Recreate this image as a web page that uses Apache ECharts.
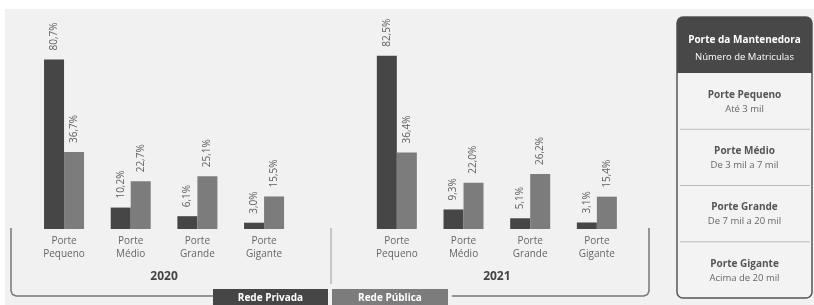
<!DOCTYPE html>
<html lang="pt">
<head>
    <meta charset="UTF-8">
    <title>Porte da Mantenedora</title>
    <script src="https://cdn.jsdelivr.net/npm/echarts@6/dist/echarts.min.js"></script>
    <style>
        body { margin: 0; background: #fff; }
        #fundo { position: absolute; left: 5px; top: 9px; width: 809px; height: 296px; background: #f1f1f1; }
        #main { position: absolute; left: 0; top: 0; width: 814px; height: 305px; }
    </style>
</head>
<body>
    <div id="fundo"></div>
    <div id="main"></div>
    <script>
        // dados
        var categorias = ['Porte\nPequeno', 'Porte\nMédio', 'Porte\nGrande', 'Porte\nGigante'];
        var anos = ['2020', '2021'];
        var privada2020 = [80.7, 10.2, 6.1, 3.0];
        var publica2020 = [36.7, 22.7, 25.1, 15.5];
        var privada2021 = [82.5, 9.3, 5.1, 3.1];
        var publica2021 = [36.4, 22.0, 26.2, 15.4];
        var redes = ['Rede Privada', 'Rede Pública'];
        var tabelaTitulo = ['Porte da Mantenedora', 'Número de Matriculas'];
        var tabelaPorte = ['Porte Pequeno', 'Porte Médio', 'Porte Grande', 'Porte Gigante'];
        var tabelaFaixa = ['Até 3 mil', 'De 3 mil a 7 mil', 'De 7 mil a 20 mil', 'Acima de 20 mil'];

        var corPrivada = '#464646';
        var corPublica = '#7c7c7c';
        var fonte = '"Open Sans", sans-serif';

        var myChart = echarts.init(document.getElementById('main'));

        function rotulo(p) {
            return p.value.toFixed(1).replace('.', ',') + '%';
        }

        var label = {
            show: true,
            position: 'top',
            rotate: 90,
            align: 'left',
            verticalAlign: 'middle',
            distance: 9,
            fontSize: 10,
            fontFamily: fonte,
            color: '#606060',
            formatter: rotulo
        };

        function eixoX(i) {
            return {
                type: 'category',
                gridIndex: i,
                data: categorias,
                axisLine: { show: false },
                axisTick: { show: false },
                axisLabel: { fontSize: 10, lineHeight: 13, color: '#666', fontFamily: fonte, margin: 6 },
                name: anos[i],
                nameLocation: 'middle',
                nameGap: 42,
                nameTextStyle: { fontSize: 12, fontWeight: 'bold', color: '#444', fontFamily: fonte }
            };
        }
        function eixoY(i) {
            return { type: 'value', gridIndex: i, min: 0, max: 100, show: false };
        }
        function serie(nome, i, dados, cor) {
            return {
                name: nome, type: 'bar', xAxisIndex: i, yAxisIndex: i,
                data: dados, barWidth: 20, barGap: '0%',
                itemStyle: { color: cor }, label: label
            };
        }

        var graficos = [
            // colchete esquerdo
            { type: 'polyline', shape: { points: [[11, 228], [11, 291], [12.5, 294.5], [16, 296], [213, 296]] },
              style: { stroke: '#777', lineWidth: 1.5, fill: null } },
            // colchete direito
            { type: 'polyline', shape: { points: [[452, 296], [644, 296], [647.5, 294.5], [649, 291], [649, 228]] },
              style: { stroke: '#777', lineWidth: 1.5, fill: null } },
            // divisor
            { type: 'line', shape: { x1: 331, y1: 228, x2: 331, y2: 284 }, style: { stroke: '#9a9a9a', lineWidth: 1 } },
            // caixas da legenda
            { type: 'rect', shape: { x: 213, y: 289, width: 115, height: 20 }, style: { fill: corPrivada } },
            { type: 'text', x: 270.5, y: 298, style: { text: redes[0], fill: '#fff', font: 'bold 10px ' + fonte, align: 'center', verticalAlign: 'middle' } },
            { type: 'rect', shape: { x: 332, y: 289, width: 116, height: 20 }, style: { fill: corPublica } },
            { type: 'text', x: 390, y: 298, style: { text: redes[1], fill: '#fff', font: 'bold 10px ' + fonte, align: 'center', verticalAlign: 'middle' } },
            // tabela
            { type: 'rect', shape: { x: 677, y: 17, width: 135, height: 281, r: 6 }, style: { fill: '#f3f3f3', stroke: '#555', lineWidth: 1.5 } },
            { type: 'rect', shape: { x: 677, y: 17, width: 135, height: 56, r: [6, 6, 0, 0] }, style: { fill: '#484848' } },
            { type: 'text', x: 744.5, y: 40, style: { text: tabelaTitulo[0], fill: '#fff', font: 'bold 10px ' + fonte, align: 'center', verticalAlign: 'middle' } },
            { type: 'text', x: 744.5, y: 57, style: { text: tabelaTitulo[1], fill: '#fff', font: '9.5px ' + fonte, align: 'center', verticalAlign: 'middle' } }
        ];
        var linhaTopo = 73, alturaLinha = 56.25;
        tabelaPorte.forEach(function (t, k) {
            var c = linhaTopo + alturaLinha * k + alturaLinha / 2;
            graficos.push({ type: 'text', x: 744.5, y: c - 6, style: { text: t, fill: '#555', font: 'bold 10px ' + fonte, align: 'center', verticalAlign: 'middle' } });
            graficos.push({ type: 'text', x: 744.5, y: c + 8, style: { text: tabelaFaixa[k], fill: '#666', font: '9.5px ' + fonte, align: 'center', verticalAlign: 'middle' } });
            if (k > 0) {
                var y = linhaTopo + alturaLinha * k;
                graficos.push({ type: 'line', shape: { x1: 680, y1: y, x2: 810, y2: y }, style: { stroke: '#bcbcbc', lineWidth: 1 } });
            }
        });

        var option = {
            animation: false,
            backgroundColor: 'transparent',
            grid: [
                { left: 30.7, top: 19, width: 266.7, height: 210 },
                { left: 363.5, top: 19, width: 266.7, height: 210 }
            ],
            xAxis: [eixoX(0), eixoX(1)],
            yAxis: [eixoY(0), eixoY(1)],
            series: [
                serie(redes[0], 0, privada2020, corPrivada),
                serie(redes[1], 0, publica2020, corPublica),
                serie(redes[0], 1, privada2021, corPrivada),
                serie(redes[1], 1, publica2021, corPublica)
            ],
            graphic: graficos
        };

        myChart.setOption(option);
    </script>
</body>
</html>
